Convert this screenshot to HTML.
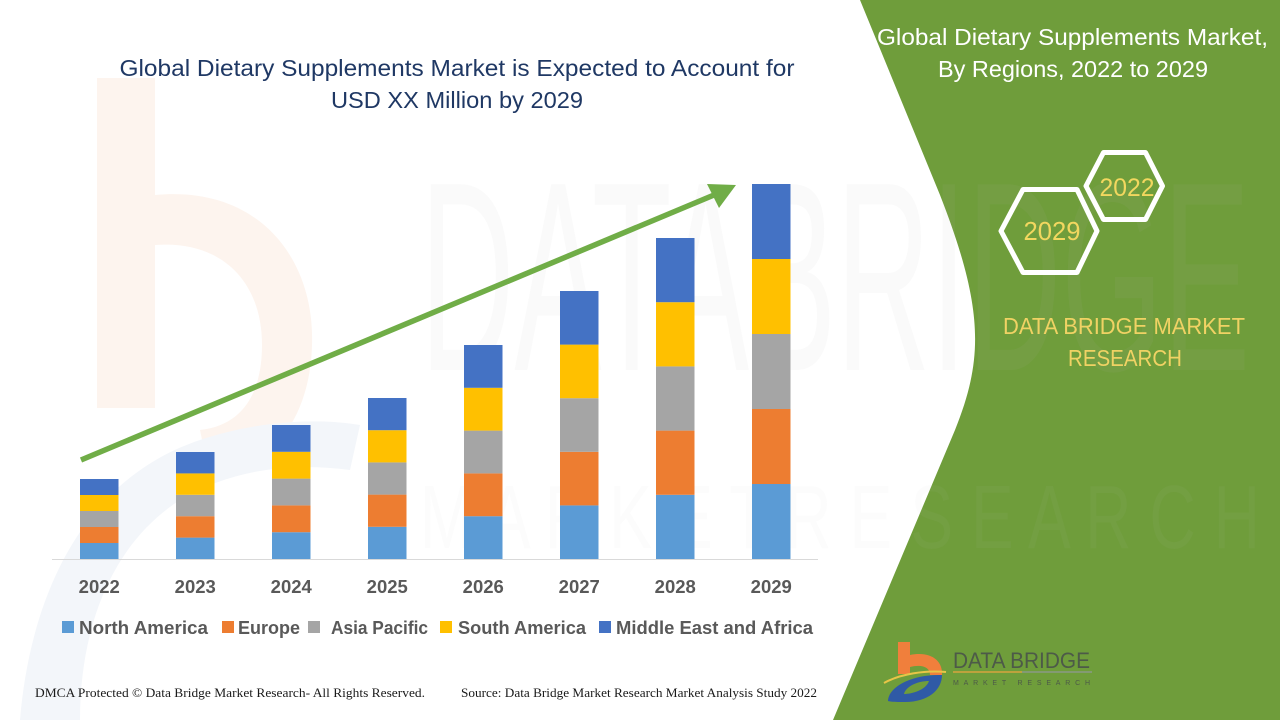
<!DOCTYPE html>
<html>
<head>
<meta charset="utf-8">
<style>
  html,body{margin:0;padding:0;background:#ffffff;}
  svg{display:block;}
  .t{font-family:"Liberation Sans",sans-serif;}
  .s{font-family:"Liberation Serif",serif;}
</style>
</head>
<body>
<svg width="1280" height="720" viewBox="0 0 1280 720" xmlns="http://www.w3.org/2000/svg">
  <rect x="0" y="0" width="1280" height="720" fill="#ffffff"/>

  <!-- faint watermark logo on white side -->
  <rect x="97" y="78" width="58" height="330" fill="#fdf4ee"/>
  <path d="M155,195 C260,185 315,260 312,345 C310,420 270,470 210,478 L200,430 C245,425 262,390 262,345 C262,280 220,240 155,245 Z" fill="#fdf4ee"/>
  <path d="M20,720 C30,600 80,480 200,440 C260,420 320,418 360,425 L350,470 C290,462 230,470 180,500 C110,545 80,630 80,720 Z" fill="#f3f6fa"/>

  <!-- green panel -->
  <path d="M860,0 L1280,0 L1280,720 L833,720 L955,430 C983,360 985,310 940,195 Z" fill="#6f9d3b"/>

  <!-- faint watermark letters -->
  <text class="t" x="420" y="370" font-size="270" textLength="830" lengthAdjust="spacingAndGlyphs" fill="#bdbdbd" fill-opacity="0.07">DATABRIDGE</text>
  <text class="t" x="420" y="548" font-size="90" textLength="840" lengthAdjust="spacingAndGlyphs" fill="#bdbdbd" fill-opacity="0.05">M A R K E T   R E S E A R C H</text>

  <!-- main title -->
  <text class="t" x="457" y="76" font-size="23" text-anchor="middle" textLength="675" lengthAdjust="spacingAndGlyphs" fill="#1f3864">Global Dietary Supplements Market is Expected to Account for</text>
  <text class="t" x="457" y="108" font-size="23" text-anchor="middle" textLength="252" lengthAdjust="spacingAndGlyphs" fill="#1f3864">USD XX Million by 2029</text>

  <!-- axis -->
  <line x1="52" y1="559.5" x2="818" y2="559.5" stroke="#d9d9d9" stroke-width="1"/>

  <!-- bars -->
  <g>
    <rect x="80" y="543" width="38.5" height="16" fill="#5b9bd5"/>
    <rect x="80" y="527" width="38.5" height="16" fill="#ed7d31"/>
    <rect x="80" y="511" width="38.5" height="16" fill="#a5a5a5"/>
    <rect x="80" y="495" width="38.5" height="16" fill="#ffc000"/>
    <rect x="80" y="479" width="38.5" height="16" fill="#4472c4"/>
    <rect x="176" y="537.6" width="38.5" height="21.4" fill="#5b9bd5"/>
    <rect x="176" y="516.2" width="38.5" height="21.4" fill="#ed7d31"/>
    <rect x="176" y="494.8" width="38.5" height="21.4" fill="#a5a5a5"/>
    <rect x="176" y="473.4" width="38.5" height="21.4" fill="#ffc000"/>
    <rect x="176" y="452" width="38.5" height="21.4" fill="#4472c4"/>
    <rect x="272" y="532.2" width="38.5" height="26.8" fill="#5b9bd5"/>
    <rect x="272" y="505.4" width="38.5" height="26.8" fill="#ed7d31"/>
    <rect x="272" y="478.6" width="38.5" height="26.8" fill="#a5a5a5"/>
    <rect x="272" y="451.8" width="38.5" height="26.8" fill="#ffc000"/>
    <rect x="272" y="425" width="38.5" height="26.8" fill="#4472c4"/>
    <rect x="368" y="526.8" width="38.5" height="32.2" fill="#5b9bd5"/>
    <rect x="368" y="494.6" width="38.5" height="32.2" fill="#ed7d31"/>
    <rect x="368" y="462.4" width="38.5" height="32.2" fill="#a5a5a5"/>
    <rect x="368" y="430.2" width="38.5" height="32.2" fill="#ffc000"/>
    <rect x="368" y="398" width="38.5" height="32.2" fill="#4472c4"/>
    <rect x="464" y="516.2" width="38.5" height="42.8" fill="#5b9bd5"/>
    <rect x="464" y="473.4" width="38.5" height="42.8" fill="#ed7d31"/>
    <rect x="464" y="430.6" width="38.5" height="42.8" fill="#a5a5a5"/>
    <rect x="464" y="387.8" width="38.5" height="42.8" fill="#ffc000"/>
    <rect x="464" y="345" width="38.5" height="42.8" fill="#4472c4"/>
    <rect x="560" y="505.4" width="38.5" height="53.6" fill="#5b9bd5"/>
    <rect x="560" y="451.8" width="38.5" height="53.6" fill="#ed7d31"/>
    <rect x="560" y="398.2" width="38.5" height="53.6" fill="#a5a5a5"/>
    <rect x="560" y="344.6" width="38.5" height="53.6" fill="#ffc000"/>
    <rect x="560" y="291" width="38.5" height="53.6" fill="#4472c4"/>
    <rect x="656" y="494.8" width="38.5" height="64.2" fill="#5b9bd5"/>
    <rect x="656" y="430.6" width="38.5" height="64.2" fill="#ed7d31"/>
    <rect x="656" y="366.4" width="38.5" height="64.2" fill="#a5a5a5"/>
    <rect x="656" y="302.2" width="38.5" height="64.2" fill="#ffc000"/>
    <rect x="656" y="238" width="38.5" height="64.2" fill="#4472c4"/>
    <rect x="752" y="484" width="38.5" height="75" fill="#5b9bd5"/>
    <rect x="752" y="409" width="38.5" height="75" fill="#ed7d31"/>
    <rect x="752" y="334" width="38.5" height="75" fill="#a5a5a5"/>
    <rect x="752" y="259" width="38.5" height="75" fill="#ffc000"/>
    <rect x="752" y="184" width="38.5" height="75" fill="#4472c4"/>
  </g>

  <!-- arrow -->
  <line x1="81" y1="460" x2="714" y2="195" stroke="#70ad47" stroke-width="5.5"/>
  <polygon points="736,185 707,184 719,208" fill="#70ad47"/>

  <!-- year labels -->
  <g class="t" font-size="18.5" font-weight="bold" fill="#595959" text-anchor="middle">
    <text x="99.25" y="593">2022</text>
    <text x="195.25" y="593">2023</text>
    <text x="291.25" y="593">2024</text>
    <text x="387.25" y="593">2025</text>
    <text x="483.25" y="593">2026</text>
    <text x="579.25" y="593">2027</text>
    <text x="675.25" y="593">2028</text>
    <text x="771.25" y="593">2029</text>
  </g>

  <!-- legend -->
  <g class="t" font-size="18" font-weight="bold" fill="#595959">
    <rect x="62" y="621" width="12" height="12" fill="#5b9bd5"/>
    <text x="79" y="634" textLength="129" lengthAdjust="spacingAndGlyphs">North America</text>
    <rect x="222" y="621" width="12" height="12" fill="#ed7d31"/>
    <text x="238" y="634" textLength="62" lengthAdjust="spacingAndGlyphs">Europe</text>
    <rect x="308" y="621" width="12" height="12" fill="#a5a5a5"/>
    <text x="331" y="634" textLength="97" lengthAdjust="spacingAndGlyphs">Asia Pacific</text>
    <rect x="440" y="621" width="12" height="12" fill="#ffc000"/>
    <text x="458" y="634" textLength="128" lengthAdjust="spacingAndGlyphs">South America</text>
    <rect x="599" y="621" width="12" height="12" fill="#4472c4"/>
    <text x="616" y="634" textLength="197" lengthAdjust="spacingAndGlyphs">Middle East and Africa</text>
  </g>

  <!-- footer -->
  <text class="s" x="35" y="697" font-size="13" textLength="390" lengthAdjust="spacingAndGlyphs" fill="#1a1a1a">DMCA Protected © Data Bridge Market Research- All Rights Reserved.</text>
  <text class="s" x="461" y="697" font-size="13" textLength="356" lengthAdjust="spacingAndGlyphs" fill="#1a1a1a">Source: Data Bridge Market Research Market Analysis Study 2022</text>

  <!-- right panel title -->
  <text class="t" x="1072.5" y="45" font-size="23.5" text-anchor="middle" textLength="391" lengthAdjust="spacingAndGlyphs" fill="#ffffff">Global Dietary Supplements Market,</text>
  <text class="t" x="1073" y="77" font-size="23.5" text-anchor="middle" textLength="270" lengthAdjust="spacingAndGlyphs" fill="#ffffff">By Regions, 2022 to 2029</text>

  <!-- hexagons -->
  <polygon points="1086,186 1103.5,152.5 1145.5,152.5 1162.5,186 1145.5,219.5 1103.5,219.5" fill="none" stroke="#ffffff" stroke-width="5" stroke-linejoin="round"/>
  <polygon points="1001,231 1023,189.5 1077,189.5 1097,231 1077,272.5 1023,272.5" fill="none" stroke="#ffffff" stroke-width="5" stroke-linejoin="round"/>
  <text class="t" x="1127" y="196" font-size="25" text-anchor="middle" textLength="55" lengthAdjust="spacingAndGlyphs" fill="#f2d75f">2022</text>
  <text class="t" x="1052" y="240" font-size="25.5" text-anchor="middle" textLength="57" lengthAdjust="spacingAndGlyphs" fill="#f2d75f">2029</text>

  <!-- DBMR text -->
  <text class="t" x="1124" y="334" font-size="23.5" text-anchor="middle" textLength="242" lengthAdjust="spacingAndGlyphs" fill="#f0d264">DATA BRIDGE MARKET</text>
  <text class="t" x="1125" y="366" font-size="23.5" text-anchor="middle" textLength="114" lengthAdjust="spacingAndGlyphs" fill="#f0d264">RESEARCH</text>

  <!-- bottom logo -->
  <rect x="898" y="642" width="12" height="32" fill="#f07f3c"/>
  <path d="M910,655 C930,651 943,660 942,675 L930,675 C930,667 922,664 910,667 Z" fill="#f07f3c"/>
  <path d="M884,683 C900,674 925,670 946,672" stroke="#e8c547" stroke-width="2" fill="none"/>
  <path d="M888,701 C888,688 910,674 942,675 C942,690 928,702 905,702 C898,702 892,702 888,701 Z M904,694 C912,694 926,690 929,681 C918,681 906,686 904,694 Z" fill="#2f5aa6" fill-rule="evenodd"/>
  <text class="t" x="953" y="668" font-size="22" textLength="137" lengthAdjust="spacingAndGlyphs" fill="#4d5a48">DATA BRIDGE</text>
  <line x1="953" y1="672" x2="1022" y2="672" stroke="#d7a43e" stroke-width="1.5"/>
  <line x1="1022" y1="672" x2="1092" y2="672" stroke="#8a9a86" stroke-width="1.5"/>
  <text class="t" x="953" y="685" font-size="7" textLength="137" lengthAdjust="spacing" fill="#4d5a48">MARKET   RESEARCH</text>
</svg>
</body>
</html>
